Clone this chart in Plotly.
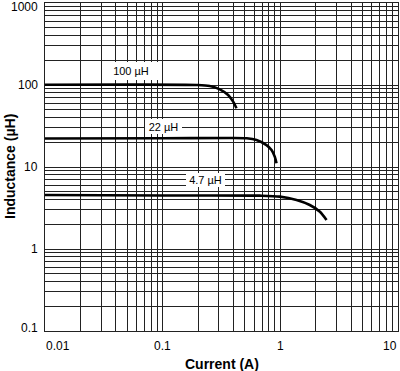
import plotly.graph_objects as go
import numpy as np

# Data
current_100 = [0.01, 0.05, 0.195, 0.251, 0.306, 0.36, 0.397, 0.424]
ind_100 = [100.5, 101, 100, 97.2, 88.6, 75.5, 62.6, 52]

current_22 = [0.01, 0.1, 0.37, 0.518, 0.627, 0.763, 0.842, 0.898, 0.928]
ind_22 = [22.3, 22.4, 22.6, 22.4, 21.3, 18.5, 16.1, 13.3, 11.1]

current_4_7 = [0.01, 0.1, 0.669, 0.99, 1.374, 1.78, 2.17, 2.47]
ind_4_7 = [4.55, 4.5, 4.47, 4.35, 3.96, 3.44, 2.85, 2.26]

x_tick_vals = [0.01, 0.1, 1, 10]
x_tick_text = ["0.01", "0.1", "1", "10"]
y_tick_vals = [0.1, 1, 10, 100, 1000]
y_tick_text = ["0.1", "1", "10", "100", "1000"]

curve_labels = ["100 µH", "22 µH", "4.7 µH"]
label_x = [0.0538, 0.1026, 0.2310]
label_y = [148.2, 31.6, 6.94]
label_w = [54, 37, 39]
label_h = [18, 15, 14]

FONT = "Liberation Sans, Arial, Helvetica, sans-serif"

def grid_vals(lo, hi):
    vals = []
    for e in range(lo, hi):
        for m in range(1, 10):
            vals.append(m * 10 ** e)
    vals.append(10 ** hi)
    return vals

fig = go.Figure()
for xs, ys in [(current_100, ind_100), (current_22, ind_22), (current_4_7, ind_4_7)]:
    fig.add_trace(go.Scatter(x=xs, y=ys, mode="lines",
                             line=dict(color="black", width=2.6, shape="spline", smoothing=0.8),
                             showlegend=False, hoverinfo="skip"))

fig.update_xaxes(type="log", range=[-2, 1], tickvals=grid_vals(-2, 1), showticklabels=False,
                 showgrid=True, gridcolor="#222222", gridwidth=1, ticks="",
                 showline=True, mirror=True, linecolor="#222222", linewidth=1, zeroline=False)
fig.update_yaxes(type="log", range=[-1, 3], tickvals=grid_vals(-1, 3), showticklabels=False,
                 showgrid=True, gridcolor="#222222", gridwidth=1, ticks="",
                 showline=True, mirror=True, linecolor="#222222", linewidth=1, zeroline=False)

annotations = []
# x tick labels
for v, t in zip(x_tick_vals, x_tick_text):
    xa = "center"
    if v == x_tick_vals[0]:
        xa = "left"
    elif v == x_tick_vals[-1]:
        xa = "right"
    annotations.append(dict(x=np.log10(v), xref="x", y=0, yref="paper", text=t, showarrow=False,
                            xanchor=xa, yanchor="top", yshift=-7, borderpad=0,
                            font=dict(family=FONT, size=12, color="black")))
# y tick labels
for v, t in zip(y_tick_vals, y_tick_text):
    ys = 0
    if v == y_tick_vals[-1]:
        ys = -4
    elif v == y_tick_vals[0]:
        ys = 3.5
    annotations.append(dict(x=0, xref="paper", y=np.log10(v), yref="y", text=t, showarrow=False,
                            xanchor="right", yanchor="middle", xshift=-6, yshift=ys, borderpad=0,
                            font=dict(family=FONT, size=12, color="black")))
# curve labels
for t, lx, ly, w, h in zip(curve_labels, label_x, label_y, label_w, label_h):
    annotations.append(dict(x=np.log10(lx), xref="x", y=np.log10(ly), yref="y", text=t,
                            showarrow=False, xanchor="center", yanchor="middle",
                            bgcolor="white", width=w, height=h, borderpad=0, borderwidth=0,
                            align="center", valign="middle",
                            font=dict(family=FONT, size=11, color="black")))
# axis titles
annotations.append(dict(x=0.5, xref="paper", y=0, yref="paper", text="<b>Current (A)</b>",
                        showarrow=False, xanchor="center", yanchor="top", yshift=-23,
                        font=dict(family=FONT, size=14, color="black")))
annotations.append(dict(x=0, xref="paper", y=0.5, yref="paper", text="<b>Inductance (µH)</b>",
                        showarrow=False, xanchor="center", yanchor="middle", xshift=-35,
                        textangle=-90, font=dict(family=FONT, size=14, color="black")))

fig.update_layout(width=400, height=371, margin=dict(l=45, r=2, t=3, b=40),
                  paper_bgcolor="white", plot_bgcolor="white", annotations=annotations,
                  font=dict(family=FONT))

fig.write_html("out.html", config={"displayModeBar": False, "staticPlot": True},
               post_script="document.body.style.margin='0px';document.body.style.overflow='hidden';")
